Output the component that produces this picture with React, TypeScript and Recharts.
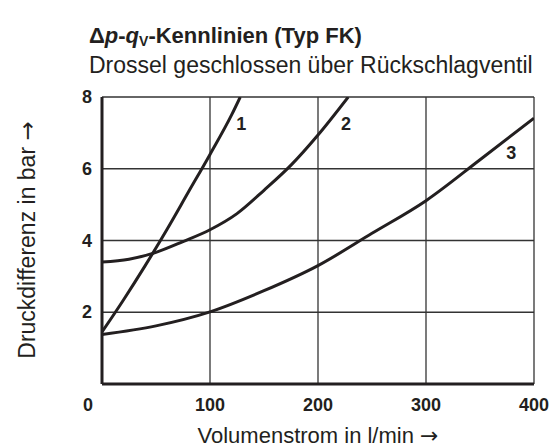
import React from "react";
import { LineChart, Line, XAxis, YAxis, CartesianGrid, ReferenceDot } from "recharts";

const xTicks = [0, 100, 200, 300, 400];
const yTicks = [2, 4, 6, 8];

const curve1 = [
  { x: 0, y: 1.45 }, { x: 20, y: 2.35 }, { x: 40, y: 3.3 }, { x: 60, y: 4.3 },
  { x: 80, y: 5.35 }, { x: 100, y: 6.4 }, { x: 120, y: 7.5 }, { x: 128, y: 8 },
];
const curve2 = [
  { x: 0, y: 3.4 }, { x: 25, y: 3.48 }, { x: 50, y: 3.67 }, { x: 75, y: 3.97 },
  { x: 100, y: 4.3 }, { x: 125, y: 4.75 }, { x: 150, y: 5.4 }, { x: 175, y: 6.1 },
  { x: 200, y: 6.94 }, { x: 228, y: 8 },
];
const curve3 = [
  { x: 0, y: 1.38 }, { x: 50, y: 1.62 }, { x: 100, y: 2.01 }, { x: 150, y: 2.6 },
  { x: 200, y: 3.3 }, { x: 250, y: 4.2 }, { x: 300, y: 5.11 }, { x: 350, y: 6.25 },
  { x: 400, y: 7.41 },
];
const curveLabels = [
  { x: 129, y: 7.24, text: "1" },
  { x: 226, y: 7.24, text: "2" },
  { x: 379, y: 6.45, text: "3" },
];

const INK = "#231f20";
const TEXT_FONT = "'Liberation Sans', Arial, Helvetica, sans-serif";
const ARROW_FONT = "'DejaVu Sans', sans-serif";
const TICK_FONT = TEXT_FONT;

const XTick = (props: any) => {
  const { x, y, payload } = props;
  const dx = payload.value === 0 ? -14 : 0;
  return (
    <text x={x + dx} y={y + 13} textAnchor="middle" dominantBaseline="central"
      fontFamily={TICK_FONT} fontWeight="bold" fontSize={18} fill={INK}>
      {payload.value}
    </text>
  );
};

const YTick = (props: any) => {
  const { x, y, payload } = props;
  return (
    <text x={x} y={y} textAnchor="end" dominantBaseline="central"
      fontFamily={TICK_FONT} fontWeight="bold" fontSize={18} fill={INK}>
      {payload.value}
    </text>
  );
};

const CurveLabel = (props: any) => {
  const { viewBox, value } = props;
  const cx = viewBox.x + (viewBox.width || 0) / 2;
  const cy = viewBox.y + (viewBox.height || 0) / 2;
  return (
    <text x={cx} y={cy} textAnchor="middle" dominantBaseline="central"
      fontFamily={TICK_FONT} fontWeight="bold" fontSize={18} fill={INK}>
      {value}
    </text>
  );
};

const YTitle = (props: any) => {
  const { viewBox } = props;
  const cx = viewBox.x - 35;
  const cy = 240;
  return (
    <text x={cx} y={cy} transform={`rotate(-90, ${cx}, ${cy})`} textAnchor="middle"
      dominantBaseline="central" fontFamily={TEXT_FONT} fontSize={23} fill={INK}>
      Druckdifferenz in bar <tspan fontFamily={ARROW_FONT}>→</tspan>
    </text>
  );
};

const XTitle = (props: any) => {
  const { viewBox } = props;
  const cx = viewBox.x + viewBox.width / 2;
  const cy = viewBox.y + 51;
  return (
    <text x={cx} y={cy} textAnchor="middle" dominantBaseline="central"
      fontFamily={TEXT_FONT} fontSize={22} fill={INK}>
      Volumenstrom in l/min <tspan fontFamily={ARROW_FONT}>→</tspan>
    </text>
  );
};

export default function App() {
  return (
    <div style={{ position: "absolute", left: 0, top: 0, width: 553, height: 448, background: "#fff" }}>
      <div style={{ position: "absolute", left: 89, top: 23, fontFamily: TEXT_FONT, fontSize: 22, fontWeight: "bold", color: INK, whiteSpace: "nowrap", lineHeight: "25px" }}>
        Δ<i>p</i>-<i>q</i><span style={{ fontSize: 14, lineHeight: "14px", position: "relative", top: 3 }}>V</span>-Kennlinien (Typ FK)
      </div>
      <div style={{ position: "absolute", left: 89, top: 52, fontFamily: TEXT_FONT, fontSize: 23, color: INK, whiteSpace: "nowrap", lineHeight: "26px" }}>
        Drossel geschlossen über Rückschlagventil
      </div>
      <div style={{ position: "absolute", left: 0, top: 0 }}>
        <LineChart width={553} height={448} margin={{ top: 97, right: 19, bottom: 34, left: 62 }}>
          <CartesianGrid stroke="#333" strokeWidth={1.3} fill="none" />
          <XAxis dataKey="x" type="number" domain={[0, 400]} ticks={xTicks} interval={0}
            axisLine={{ stroke: INK, strokeWidth: 3 }} tickLine={false} tick={<XTick />} height={30}
            label={<XTitle />} allowDataOverflow />
          <YAxis dataKey="y" type="number" domain={[0, 8]} ticks={yTicks} interval={0}
            axisLine={{ stroke: INK, strokeWidth: 3 }} tickLine={false} tick={<YTick />} width={40}
            tickMargin={4} label={<YTitle />} allowDataOverflow />
          <Line data={curve1} dataKey="y" type="monotone" stroke={INK} strokeWidth={3} dot={false} isAnimationActive={false} />
          <Line data={curve2} dataKey="y" type="monotone" stroke={INK} strokeWidth={3} dot={false} isAnimationActive={false} />
          <Line data={curve3} dataKey="y" type="monotone" stroke={INK} strokeWidth={3} dot={false} isAnimationActive={false} />
          {curveLabels.map((l) => (
            <ReferenceDot key={l.text} x={l.x} y={l.y} r={0} fill="none" stroke="none"
              label={<CurveLabel value={l.text} />} />
          ))}
        </LineChart>
      </div>
    </div>
  );
}
